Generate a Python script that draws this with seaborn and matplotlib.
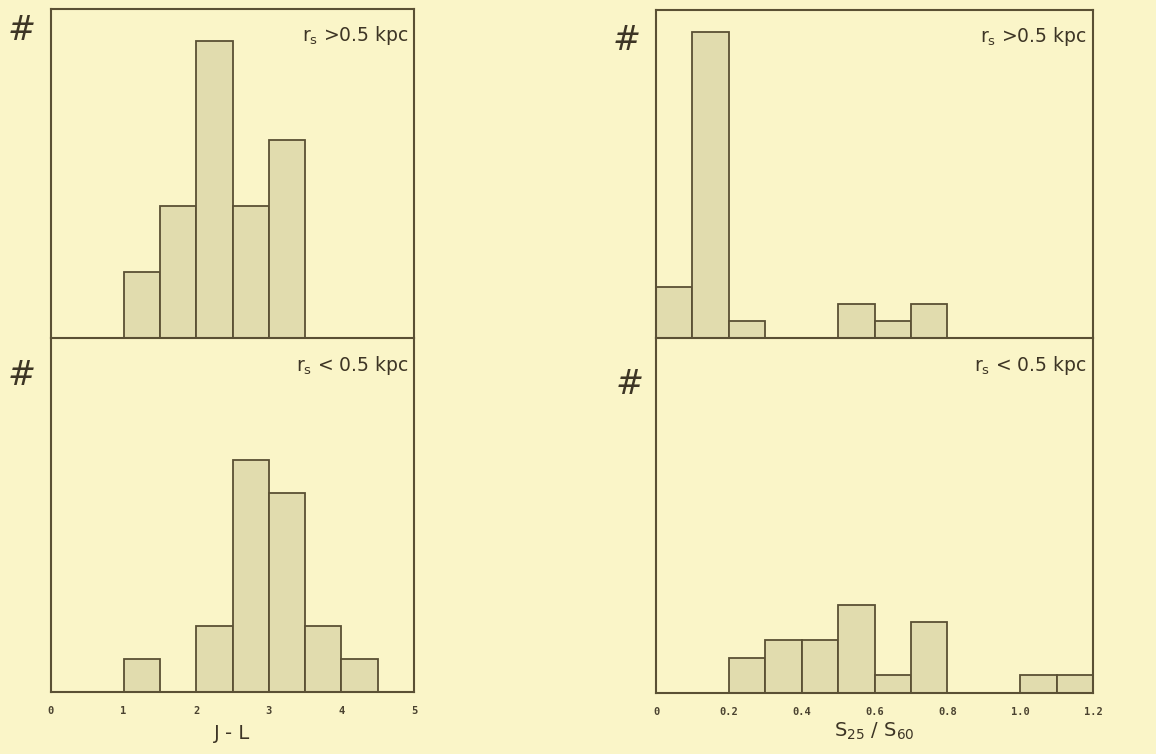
import matplotlib
matplotlib.use("Agg")
import matplotlib.pyplot as plt
import seaborn as sns
import numpy as np
import pandas as pd

# ---- data ----
jl_edges = [0.0, 0.5, 1.0, 1.5, 2.0, 2.5, 3.0, 3.5, 4.0, 4.5, 5.0]
jl_far = [0, 0, 2, 4, 9, 4, 6, 0, 0, 0]      # r_s > 0.5 kpc
jl_near = [0, 0, 1, 0, 2, 7, 6, 2, 1, 0]     # r_s < 0.5 kpc
jl_ticks = [0, 1, 2, 3, 4, 5]
jl_ticklabels = ["0", "1", "2", "3", "4", "5"]

s_edges = [0.0, 0.1, 0.2, 0.3, 0.4, 0.5, 0.6, 0.7, 0.8, 0.9, 1.0, 1.1, 1.2]
s_far = [3, 18, 1, 0, 0, 2, 1, 2, 0, 0, 0, 0]
s_near = [0, 0, 2, 3, 3, 5, 1, 4, 0, 0, 1, 1]
s_ticks = [0, 0.2, 0.4, 0.6, 0.8, 1.0, 1.2]
s_ticklabels = ["0", "0.2", "0.4", "0.6", "0.8", "1.0", "1.2"]

label_far = r"$\mathregular{r_s}$ >0.5 kpc"
label_near = r"$\mathregular{r_s}$ < 0.5 kpc"

BG = "#FAF5C8"
FILL = "#E1DCAE"
EDGE = "#5A5034"

sns.set_theme(style="white")
plt.rcParams["font.family"] = ["DejaVu Sans"]

fig = plt.figure(figsize=(11.56, 7.54), dpi=100, facecolor=BG)
W, H = 1156.0, 754.0

def make_ax(x0, x1, ytop, ybot):
    ax = fig.add_axes([x0 / W, 1 - ybot / H, (x1 - x0) / W, (ybot - ytop) / H])
    ax.set_facecolor("none")
    for s in ax.spines.values():
        s.set_color(EDGE)
        s.set_linewidth(1.5)
    return ax

def draw(ax, edges, counts, xlim, ylim):
    e = [float(v) for v in edges]
    centers = [(a + b) / 2 for a, b in zip(e[:-1], e[1:])]
    df = pd.DataFrame({"x": centers, "n": counts})
    sns.histplot(data=df, x="x", weights="n", bins=e, ax=ax, color=FILL,
                 edgecolor=EDGE, linewidth=1.3, alpha=1.0)
    ax.set_xlim(*xlim)
    ax.set_ylim(*ylim)
    ax.set_xlabel("")
    ax.set_ylabel("")
    ax.set_yticks([])

# left column
axLT = make_ax(51, 414, 9, 338)
axLB = make_ax(51, 414, 338, 692)
# right column
axRT = make_ax(656, 1093, 10, 338)
axRB = make_ax(656, 1093, 338, 693)

draw(axLT, jl_edges, jl_far, (0, 5), (0, 9.97))
draw(axLB, jl_edges, jl_near, (0, 5), (0, 10.7))
draw(axRT, s_edges, s_far, (0, 1.2), (0, 19.3))
draw(axRB, s_edges, s_near, (0, 1.2), (0, 20.1))

for ax in (axLT, axRT):
    ax.set_xticks([])
for ax in (axLB, axRB):
    ax.spines["top"].set_visible(False)

axLB.set_xticks(jl_ticks)
axLB.set_xticklabels(jl_ticklabels)
axRB.set_xticks(s_ticks)
axRB.set_xticklabels(s_ticklabels)
for ax in (axLB, axRB):
    ax.tick_params(axis="x", direction="out", length=6, width=1.2, color=EDGE,
                   pad=4, labelsize=7.5, labelcolor="#4a4230")
    for t in ax.get_xticklabels():
        t.set_family("DejaVu Sans Mono")
        t.set_fontweight("bold")

txtc = "#3d3525"
axLB.set_xlabel("J - L", fontsize=14, color=txtc, labelpad=6)
axRB.set_xlabel(r"$\mathregular{S_{25}}$ / $\mathregular{S_{60}}$", fontsize=14, color=txtc, labelpad=3)

for ax, lab in ((axLT, label_far), (axLB, label_near), (axRT, label_far), (axRB, label_near)):
    ax.text(0.985, 0.955, lab, transform=ax.transAxes,
            ha="right", va="top", fontsize=13.5, color=txtc)

# '#' markers
fig.text(22 / W, 1 - 30 / H, "#", fontsize=24, color=txtc, ha="center", va="center", style="italic")
fig.text(22 / W, 1 - 376 / H, "#", fontsize=24, color=txtc, ha="center", va="center", style="italic")
fig.text(627 / W, 1 - 40 / H, "#", fontsize=24, color=txtc, ha="center", va="center", style="italic")
fig.text(630 / W, 1 - 384 / H, "#", fontsize=24, color=txtc, ha="center", va="center", style="italic")

fig.savefig("out.png", dpi=100, facecolor=BG)
